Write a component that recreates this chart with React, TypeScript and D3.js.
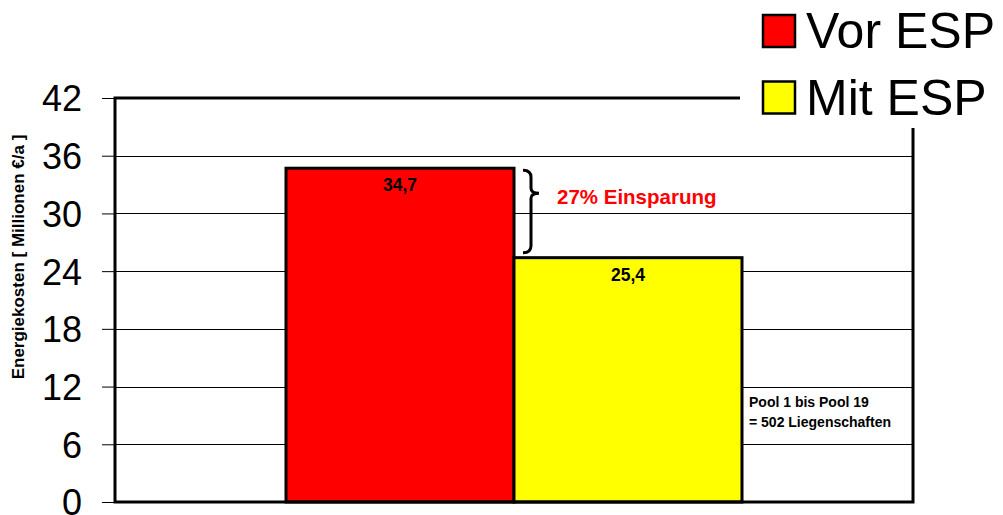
import { useRef, useEffect } from 'react';
import * as d3 from 'd3';

const W = 1003;
const H = 515;
const MARGIN = { top: 98, right: 90, bottom: 13, left: 115 };
const FONT = '"Liberation Sans", Arial, Helvetica, sans-serif';

const CATEGORY = ['Pool 1 bis Pool 19'];
const SERIES = ['Vor ESP', 'Mit ESP'];
const VALUES = [34.7, 25.4];
const COLORS = ['#ff0000', '#ffff00'];
const Y_TICKS = [0, 6, 12, 18, 24, 30, 36, 42];
const SAVING_LABEL = '27% Einsparung';
const NOTE_LINES = ['Pool 1 bis Pool 19', '= 502 Liegenschaften'];
const Y_TITLE = 'Energiekosten [ Millionen €/a ]';

export default function App() {
  const svgRef = useRef<SVGSVGElement>(null);

  useEffect(() => {
    const svg = svgRef.current;
    if (!svg) return;
    const root = d3.select(svg);
    root.selectAll('*').remove();

    const x0 = MARGIN.left;
    const x1 = W - MARGIN.right;
    const yTop = MARGIN.top;
    const yBot = H - MARGIN.bottom;

    const y = d3.scaleLinear().domain([0, 42]).range([yBot, yTop]);
    const xGroup = d3
      .scaleBand<string>()
      .domain(CATEGORY)
      .range([x0, x1])
      .paddingInner(0)
      .paddingOuter(0.375);
    const xSeries = d3
      .scaleBand<string>()
      .domain(SERIES)
      .range([0, xGroup.bandwidth()])
      .padding(0);

    root.append('rect').attr('width', W).attr('height', H).attr('fill', '#fff');

    // Grid lines
    root
      .append('g')
      .selectAll('line')
      .data(Y_TICKS.filter((d) => d > 0 && d < 42))
      .join('line')
      .attr('x1', x0)
      .attr('x2', x1)
      .attr('y1', (d) => Math.round(y(d)) + 0.5)
      .attr('y2', (d) => Math.round(y(d)) + 0.5)
      .attr('stroke', '#000')
      .attr('stroke-width', 1);

    // Y axis
    const axis = d3
      .axisLeft(y)
      .tickValues(Y_TICKS)
      .tickSize(13)
      .tickPadding(20)
      .tickFormat((d) => String(d));
    const ag = root.append('g').attr('transform', `translate(${x0},0)`).call(axis);
    ag.select('.domain').remove();
    ag.selectAll('line').attr('stroke', '#000').attr('stroke-width', 1);
    ag.selectAll('text')
      .attr('fill', '#000')
      .attr('font-family', FONT)
      .attr('font-size', '36px')
      .attr('dy', '0.36em');

    // Bars
    const gx = xGroup(CATEGORY[0]) ?? 0;
    SERIES.forEach((s, i) => {
      const bx = gx + (xSeries(s) ?? 0);
      const by = y(VALUES[i]);
      root
        .append('rect')
        .attr('x', bx)
        .attr('y', by)
        .attr('width', xSeries.bandwidth())
        .attr('height', yBot - by)
        .attr('fill', COLORS[i])
        .attr('stroke', '#000')
        .attr('stroke-width', 3);
      root
        .append('text')
        .attr('x', bx + xSeries.bandwidth() / 2)
        .attr('y', by + 23)
        .attr('text-anchor', 'middle')
        .attr('font-family', FONT)
        .attr('font-weight', 'bold')
        .attr('font-size', '17.5px')
        .attr('fill', '#000')
        .text(d3.format('.1f')(VALUES[i]).replace('.', ','));
    });

    // Frame
    root
      .append('rect')
      .attr('x', x0)
      .attr('y', yTop)
      .attr('width', x1 - x0)
      .attr('height', yBot - yTop)
      .attr('fill', 'none')
      .attr('stroke', '#000')
      .attr('stroke-width', 3);

    // Brace between the bars
    const bTop = y(VALUES[0]) + 2;
    const bBot = y(VALUES[1]) - 5;
    const bTip = bTop + (bBot - bTop) * 0.28;
    const sx = (xSeries(SERIES[1]) ?? 0) + gx + 9;
    const stem = sx + 8;
    const tip = sx + 16;
    const brace = d3.path();
    brace.moveTo(sx, bTop);
    brace.quadraticCurveTo(stem, bTop, stem, bTop + 7);
    brace.lineTo(stem, bTip - 5);
    brace.quadraticCurveTo(stem, bTip, tip, bTip);
    brace.quadraticCurveTo(stem, bTip, stem, bTip + 5);
    brace.lineTo(stem, bBot - 7);
    brace.quadraticCurveTo(stem, bBot, sx, bBot);
    root
      .append('path')
      .attr('d', brace.toString())
      .attr('fill', 'none')
      .attr('stroke', '#000')
      .attr('stroke-width', 3);

    root
      .append('text')
      .attr('x', tip + 18)
      .attr('y', bTip + 11)
      .attr('font-family', FONT)
      .attr('font-weight', 'bold')
      .attr('font-size', '20.5px')
      .attr('fill', '#ff0000')
      .text(SAVING_LABEL);

    // Note text
    const noteX = gx + xGroup.bandwidth() + 7;
    NOTE_LINES.forEach((t, i) => {
      root
        .append('text')
        .attr('x', noteX)
        .attr('y', y(10) + 1 + i * 20)
        .attr('font-family', FONT)
        .attr('font-weight', 'bold')
        .attr('font-size', '14px')
        .attr('fill', '#000')
        .text(t);
    });

    // Y title
    root
      .append('text')
      .attr('transform', `translate(24,${257}) rotate(-90)`)
      .attr('text-anchor', 'middle')
      .attr('font-family', FONT)
      .attr('font-weight', 'bold')
      .attr('font-size', '17px')
      .attr('fill', '#000')
      .text(Y_TITLE);

    // Legend (white box over the frame corner)
    const lg = root.append('g');
    lg.append('rect').attr('x', 740).attr('y', 0).attr('width', W - 740).attr('height', 128).attr('fill', '#fff');
    SERIES.forEach((s, i) => {
      const top = 15 + i * 66.5;
      lg.append('rect')
        .attr('x', 763)
        .attr('y', top)
        .attr('width', 32)
        .attr('height', 32)
        .attr('fill', COLORS[i])
        .attr('stroke', '#000')
        .attr('stroke-width', 2.5);
      lg.append('text')
        .attr('x', 806)
        .attr('y', top + 33)
        .attr('font-family', FONT)
        .attr('font-size', '50px')
        .attr('fill', '#000')
        .text(s);
    });
  }, []);

  return (
    <svg
      ref={svgRef}
      width={W}
      height={H}
      style={{ position: 'absolute', left: 0, top: 0, display: 'block' }}
    />
  );
}
